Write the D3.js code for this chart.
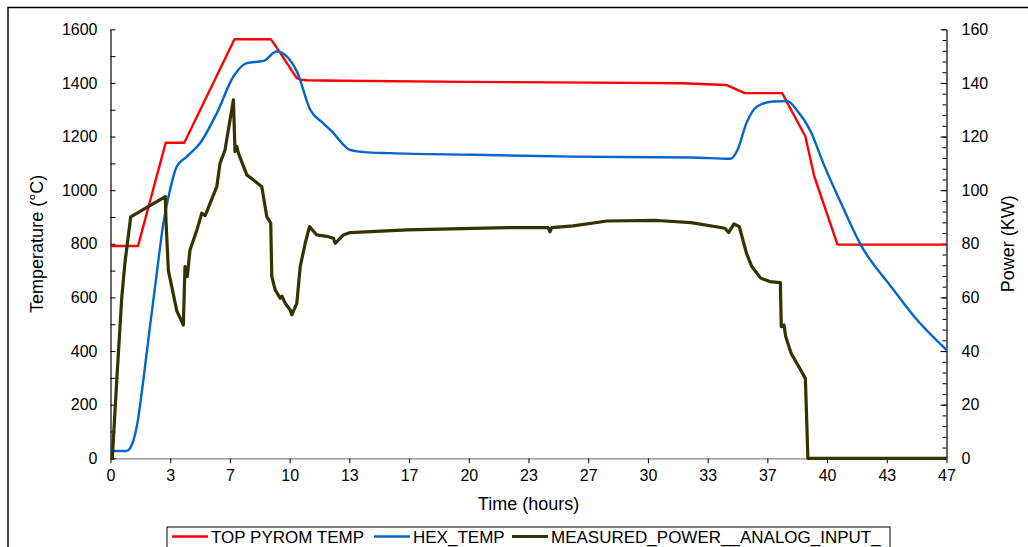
<!DOCTYPE html>
<html>
<head>
<meta charset="utf-8">
<script src="https://cdn.jsdelivr.net/npm/d3@7"></script>
<style>
  body { margin: 0; background: #fff; }
  text { font-family: Arial, "Liberation Sans", sans-serif; fill: #000; }
  .line { fill: none; stroke-linejoin: round; }
</style>
</head>
<body>
<script>
// ---- data ----
  var seriesNames = ["TOP PYROM TEMP", "HEX_TEMP", "MEASURED_POWER__ANALOG_INPUT_"];

  // time axis labels, evenly spaced over the run
  var xMax = 46.8;
  var xTickLabels = ["0","3","7","10","13","17","20","23","27","30","33","37","40","43","47"];

  var pyromT = [0,1.54,3.09,4.13,4.3,6.94,8.97,9.09,10.43,10.67,11.0,12.9,20,27,32,34.5,35.5,37.6,38.9,39.4,40.7,46.8];
  var pyromV = [792,792,1177,1177,1200,1563,1563,1553,1418,1412,1410,1408,1404,1401,1399,1392,1362,1362,1200,1051,797,797];

  var hexT = [0,0.9,1.09,1.47,1.84,2.21,2.59,2.96,3.33,3.71,4.27,5.01,5.95,6.88,7.63,8.56,9.31,10.43,11.18,11.9,12.48,13.0,13.4,14.2,15.66,20.3,25.9,32.5,34.7,35.1,35.6,36.2,37.1,37.9,38.4,39.2,39.9,40.9,42.0,43.7,45.0,46.8];
  var hexV = [27,27,37,118,292,491,690,877,1001,1088,1125,1175,1287,1424,1474,1482,1517,1443,1300,1250,1213,1172,1150,1142,1138,1132,1125,1122,1117,1150,1250,1312,1331,1332,1300,1219,1101,951,796,640,528,404];

  var powerT = [0,0.1,0.35,0.63,0.81,1.13,3.07,3.11,3.24,3.43,3.71,4.08,4.12,4.17,4.3,4.45,4.83,5.11,5.3,5.57,5.95,6.13,6.41,6.88,6.97,7.07,7.16,7.63,8.0,8.47,8.75,8.97,9.03,9.22,9.5,9.6,9.78,10.06,10.15,10.43,10.62,10.9,11.14,11.55,12.1,12.48,12.58,13.04,13.42,16.6,22.2,24.5,24.6,24.7,25.9,27.8,30.6,32.5,34.4,34.6,34.9,35.2,35.5,35.6,35.9,36.4,36.9,37.5,37.55,37.7,37.8,38.1,38.64,38.9,39.04,46.8];
  var powerV = [0,0,29,60,73,90,97.6,88,70,64,55,49.7,60,71.5,67.8,77.7,85,91.4,90.5,95,101.3,110,115,133.7,114.4,116.3,113.8,105.7,103.8,101.3,90.1,87.7,67.8,62.8,59.7,60.5,57.8,55.3,53.5,57.8,71.5,80.2,86.4,83.3,82.8,82.1,80.2,83.3,84.2,85.2,86,86,84.5,86,86.7,88.5,88.7,87.9,85.8,84.2,87.4,86.4,79,76.5,71.5,67.2,65.9,65.5,49.1,49.7,45.4,39.2,32.9,29.8,0,0];

  var tempTicks = [0,200,400,600,800,1000,1200,1400,1600];
  var powerTicks = [0,20,40,60,80,100,120,140,160];
// -------------------------------------

// ---- globals ----
  var width_outer = 1028;
  var height_outer = 547;
  var plot = {left: 110.5, right: 946.5, top: 29.3, bottom: 458.3};
  var plotColors = ["#ff0000", "#0066cc", "#333300"];
  var plotWidths = [2.4, 2.4, 3.2];
// -----------------

// ---- D3 Visualization ----
  var svg = d3.select("body").append("svg")
    .attr("width", width_outer)
    .attr("height", height_outer);

  // chart frame
  svg.append("rect")
    .attr("x", 8).attr("y", 7.5)
    .attr("width", 1030).attr("height", 600)
    .attr("fill", "none")
    .attr("stroke", "#000")
    .attr("stroke-width", 1.5);

  var x = d3.scaleLinear().domain([0, xMax]).range([plot.left, plot.right]);
  var yT = d3.scaleLinear().domain([0, 1600]).range([plot.bottom, plot.top]);
  var yP = d3.scaleLinear().domain([0, 160]).range([plot.bottom, plot.top]);

  var xTickVals = xTickLabels.map(function(d,i) {return i*xMax/(xTickLabels.length-1)});

  // x axis
  var xAxis = d3.axisBottom(x)
    .tickValues(xTickVals)
    .tickFormat(function(d,i) {return xTickLabels[i]})
    .tickSizeInner(5).tickSizeOuter(0).tickPadding(6);
  var gx = svg.append("g")
    .attr("transform", "translate(0," + plot.bottom + ")")
    .call(xAxis);
  gx.select(".domain").attr("stroke", "#808080").attr("stroke-width", 1.2);
  gx.selectAll(".tick text").style("font-size", "16px");

  // left axis (minor ticks every 100, pointing inward)
  svg.append("g")
    .attr("transform", "translate(" + plot.left + ",0)")
    .call(d3.axisRight(yT).tickValues(d3.range(0, 1601, 100)).tickSize(5).tickFormat(""))
    .select(".domain").remove();
  var gyl = svg.append("g")
    .attr("transform", "translate(" + plot.left + ",0)")
    .call(d3.axisLeft(yT).tickValues(tempTicks).tickSize(0).tickPadding(13).tickFormat(d3.format("d")));
  gyl.select(".domain").attr("stroke", "#000").attr("stroke-width", 1.2);
  gyl.selectAll(".tick text").style("font-size", "16px");

  // right axis (minor ticks every 4)
  svg.append("g")
    .attr("transform", "translate(" + plot.right + ",0)")
    .call(d3.axisLeft(yP).tickValues(d3.range(0, 161, 4)).tickSize(4).tickFormat(""))
    .select(".domain").remove();
  svg.append("g")
    .attr("transform", "translate(" + plot.right + ",0)")
    .call(d3.axisLeft(yP).tickValues(powerTicks).tickSize(6).tickFormat(""))
    .select(".domain").remove();
  var gyr = svg.append("g")
    .attr("transform", "translate(" + plot.right + ",0)")
    .call(d3.axisRight(yP).tickValues(powerTicks).tickSize(0).tickPadding(15).tickFormat(d3.format("d")));
  gyr.select(".domain").attr("stroke", "#000").attr("stroke-width", 1.2);
  gyr.selectAll(".tick text").style("font-size", "16px");

  svg.selectAll(".tick line").attr("stroke", "#000");

  // axis titles
  svg.append("text")
    .attr("transform", "translate(43," + (plot.top+plot.bottom)/2 + ") rotate(-90)")
    .attr("text-anchor", "middle")
    .style("font-size", "18px")
    .text("Temperature (°C)");
  svg.append("text")
    .attr("transform", "translate(1014," + (plot.top+plot.bottom)/2 + ") rotate(-90)")
    .attr("text-anchor", "middle")
    .style("font-size", "18px")
    .text("Power (KW)");
  svg.append("text")
    .attr("x", (plot.left+plot.right)/2)
    .attr("y", 510)
    .attr("text-anchor", "middle")
    .style("font-size", "18px")
    .text("Time (hours)");

  // lines
  var pyrom = pyromT.map(function(t,i) {return {x:t, y:pyromV[i]}});
  var hex = hexT.map(function(t,i) {return {x:t, y:hexV[i]}});
  var power = powerT.map(function(t,i) {return {x:t, y:powerV[i]}});

  var lineT = d3.line()
    .x(function(d) { return x(d.x); })
    .y(function(d) { return yT(d.y); });
  var lineSmooth = d3.line()
    .curve(d3.curveMonotoneX)
    .x(function(d) { return x(d.x); })
    .y(function(d) { return yT(d.y); });
  var lineP = d3.line()
    .x(function(d) { return x(d.x); })
    .y(function(d) { return yP(d.y); });

  svg.append("path").datum(pyrom).attr("class", "line")
    .attr("d", lineT).style("stroke", plotColors[0]).style("stroke-width", plotWidths[0]);
  svg.append("path").datum(hex).attr("class", "line")
    .attr("d", lineSmooth).style("stroke", plotColors[1]).style("stroke-width", plotWidths[1]);
  svg.append("path").datum(power).attr("class", "line")
    .attr("d", lineP).style("stroke", plotColors[2]).style("stroke-width", plotWidths[2]);

  // legend
  var legend = svg.append("g").attr("transform", "translate(167,527)");
  legend.append("rect")
    .attr("width", 723).attr("height", 40)
    .attr("fill", "#fff")
    .attr("stroke", "#000")
    .attr("stroke-width", 1);
  var legendX = [5, 207, 345];
  var items = legend.selectAll(".item")
    .data(seriesNames)
    .enter().append("g")
      .attr("class", "item")
      .attr("transform", function(d,i) {return "translate(" + legendX[i] + ",0)"});
  items.append("line")
    .attr("x1", 0).attr("x2", 36)
    .attr("y1", 9.5).attr("y2", 9.5)
    .attr("stroke", function(d,i) {return plotColors[i]})
    .attr("stroke-width", function(d,i) {return plotWidths[i]});
  items.append("text")
    .attr("x", 39).attr("y", 15.5)
    .style("font-size", "17px")
    .text(function(d) {return d});
// --------------------------
</script>
</body>
</html>
